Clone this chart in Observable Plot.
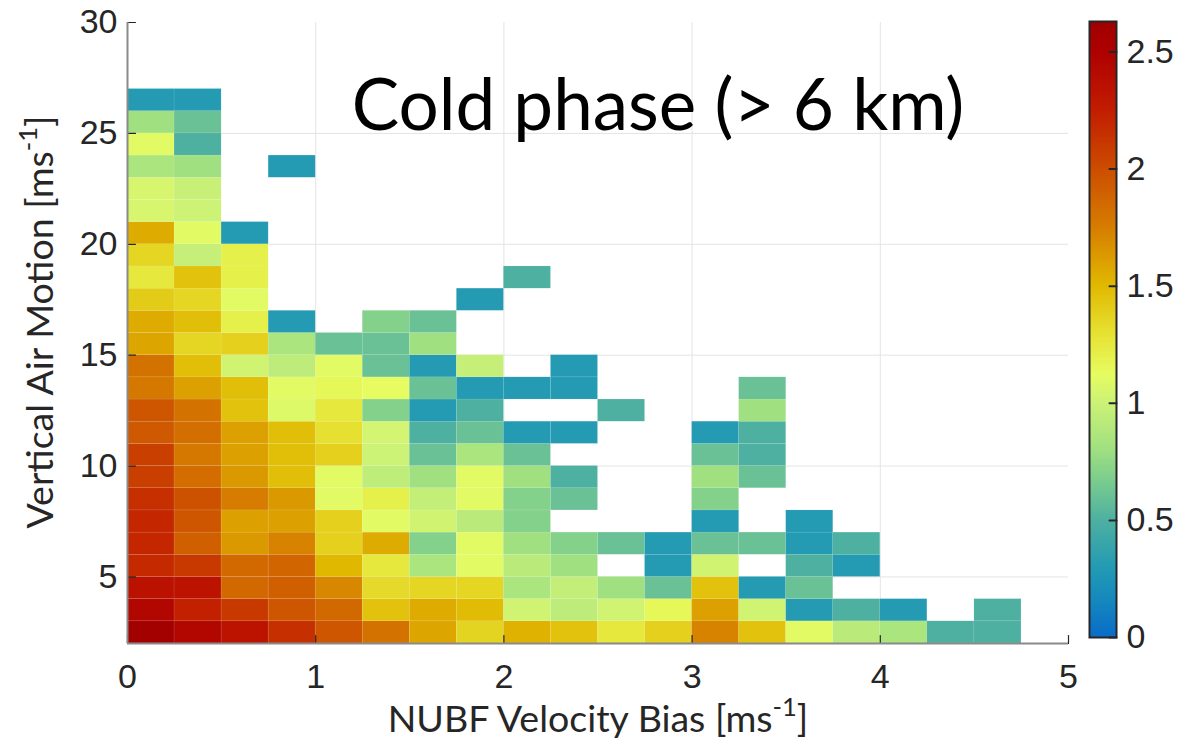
<!DOCTYPE html>
<html><head><meta charset="utf-8">
<script src="https://cdn.jsdelivr.net/npm/d3@7"></script>
<script src="https://cdn.jsdelivr.net/npm/@observablehq/plot@0.6"></script>
<style>
html,body{margin:0;padding:0;background:#fff;}
#wrap{position:relative;width:1199px;height:753px;overflow:hidden;background:#fff;}
#wrap svg{position:absolute;top:0;}
</style></head><body><div id="wrap"></div>
<script>
// ---- data ----
const xBins = [0,0.25,0.5,0.75,1,1.25,1.5,1.75,2,2.25,2.5,2.75,3,3.25,3.5,3.75,4,4.25,4.5,4.75];
const binWidth = 0.25;
const yBins = [2,3,4,5,6,7,8,9,10,11,12,13,14,15,16,17,18,19,20,21,22,23,24,25,26];
const binHeight = 1;
const N = null;
// one row per yBin (bottom to top), one value per xBin
const values = [
  [2.6,2.45,2.33,2.15,1.95,1.8,1.58,1.36,1.53,1.45,1.25,1.38,1.72,1.45,1.1,0.92,0.85,0.5,0.5,N],
  [2.45,2.23,2.1,1.95,1.85,1.45,1.55,1.48,1.02,0.93,1.02,1.15,1.6,1.02,0.3,0.5,0.3,N,0.5,N],
  [2.35,2.33,1.85,1.9,1.7,1.33,1.35,1.35,0.85,0.96,0.8,0.6,1.45,0.3,0.6,N,N,N,N,N],
  [2.18,2.1,1.85,1.87,1.5,1.25,0.85,1.1,0.92,0.8,N,0.3,1.02,N,0.5,0.3,N,N,N,N],
  [2.2,1.9,1.63,1.72,1.38,1.55,0.7,1.1,0.8,0.7,0.6,0.3,0.6,0.6,0.3,0.5,N,N,N,N],
  [2.2,1.95,1.6,1.6,1.38,1.1,1.02,0.92,0.7,N,N,N,0.3,N,0.3,N,N,N,N,N],
  [2.15,1.97,1.75,1.63,1.1,1.2,0.96,1.1,0.7,0.6,N,N,0.7,N,N,N,N,N,N,N],
  [2.07,1.83,1.63,1.47,1.1,0.94,0.8,1.1,0.8,0.5,N,N,0.8,0.6,N,N,N,N,N,N],
  [2.07,1.77,1.6,1.47,1.38,1.0,0.6,0.85,0.6,N,N,N,0.6,0.5,N,N,N,N,N,N],
  [1.93,1.82,1.6,1.47,1.3,1.03,0.5,0.6,0.3,0.3,N,N,0.3,0.5,N,N,N,N,N,N],
  [1.95,1.8,1.45,1.08,1.25,0.7,0.3,0.5,N,N,0.5,N,N,0.8,N,N,N,N,N,N],
  [1.77,1.6,1.47,1.1,1.15,1.12,0.6,0.3,0.3,0.3,N,N,N,0.6,N,N,N,N,N,N],
  [1.8,1.47,1.02,0.93,1.1,0.6,0.3,0.97,N,0.3,N,N,N,N,N,N,N,N,N,N],
  [1.58,1.35,1.38,0.85,0.6,0.6,0.8,N,N,N,N,N,N,N,N,N,N,N,N,N],
  [1.55,1.47,1.2,0.3,N,0.7,0.6,N,N,N,N,N,N,N,N,N,N,N,N,N],
  [1.4,1.35,1.1,N,N,N,N,0.3,N,N,N,N,N,N,N,N,N,N,N,N],
  [1.25,1.45,1.2,N,N,N,N,N,0.5,N,N,N,N,N,N,N,N,N,N,N],
  [1.35,0.97,1.2,N,N,N,N,N,N,N,N,N,N,N,N,N,N,N,N,N],
  [1.55,1.1,0.3,N,N,N,N,N,N,N,N,N,N,N,N,N,N,N,N,N],
  [1.05,1.0,N,N,N,N,N,N,N,N,N,N,N,N,N,N,N,N,N,N],
  [1.05,0.98,N,N,N,N,N,N,N,N,N,N,N,N,N,N,N,N,N,N],
  [0.85,0.8,N,0.3,N,N,N,N,N,N,N,N,N,N,N,N,N,N,N,N],
  [1.1,0.5,N,N,N,N,N,N,N,N,N,N,N,N,N,N,N,N,N,N],
  [0.8,0.6,N,N,N,N,N,N,N,N,N,N,N,N,N,N,N,N,N,N],
  [0.3,0.3,N,N,N,N,N,N,N,N,N,N,N,N,N,N,N,N,N,N]
];
const xTicks = [0,1,2,3,4,5];
const yTicks = [5,10,15,20,25,30];
const cbarTicks = [0,0.5,1,1.5,2,2.5];
const cbarMax = 2.63;
const colorDomain = [0,0.15,0.3,0.5,0.65,0.8,1.0,1.12,1.3,1.5,1.75,2.0,2.25,2.5,2.63];
const colorRange = ["#0a6cc8","#1487be","#249bb3","#4eb0a0","#76ca90","#a0e080","#ccf276","#e6fc60","#e6e030","#e0b800","#d67c00","#cc4c00","#c21c00","#ae0000","#a00000"];
const titleText = "Cold phase (> 6 km)";
const xLabel = ["NUBF Velocity Bias [ms", "-1", "]"];
const yLabel = ["Vertical Air Motion [ms", "-1", "]"];

// ---- build ----
const cells = [];
values.forEach((row, i) => row.forEach((v, j) => {
  if (v != null) cells.push({x1: xBins[j], x2: xBins[j] + binWidth, y1: yBins[i], y2: yBins[i] + binHeight, v});
}));

const tickShape = {draw(ctx, l) { ctx.moveTo(0, 0); ctx.lineTo(0, -l); }};
const colorScale = {type: "linear", domain: colorDomain, range: colorRange, interpolate: "rgb", clamp: true};
const axisFont = "Liberation Sans";
const ink = "#262626";
const fmt = d3.format("~g");

const main = Plot.plot({
  width: 1199, height: 753,
  marginLeft: 127, marginRight: 131, marginTop: 22, marginBottom: 110,
  style: {fontFamily: axisFont, fontSize: "34px", color: ink, background: "transparent"},
  x: {domain: [0, 5]},
  y: {domain: [2, 30]},
  color: colorScale,
  marks: [
    Plot.gridX([1,2,3,4], {stroke: "#e4e4e4", strokeOpacity: 1}),
    Plot.gridY([5,10,15,20,25], {stroke: "#e4e4e4", strokeOpacity: 1}),
    Plot.rect(cells, {x1: "x1", x2: "x2", y1: "y1", y2: "y2", fill: "v", stroke: "white", strokeOpacity: 0.12, strokeWidth: 0.6}),
    Plot.axisX(xTicks, {tickSize: 0, tickPadding: 20, label: null, fill: ink, tickFormat: fmt, fontFamily: axisFont, fontSize: 34}),
    Plot.axisY(yTicks, {tickSize: 0, tickPadding: 10, label: null, fill: ink, tickFormat: fmt, fontFamily: axisFont, fontSize: 34}),
    Plot.vector(xTicks, {x: d => d, frameAnchor: "bottom", length: 8, anchor: "start", shape: tickShape, stroke: ink, strokeWidth: 1.2}),
    Plot.vector(yTicks, {y: d => d, frameAnchor: "left", length: 8, rotate: 90, anchor: "start", shape: tickShape, stroke: ink, strokeWidth: 1.2}),
    Plot.ruleX([0], {stroke: "#8a8a8a", strokeWidth: 2}),
    Plot.ruleY([2], {stroke: "#8a8a8a", strokeWidth: 2})
  ]
});

const bands = d3.range(0, cbarMax, 0.005);
const cbar = Plot.plot({
  width: 114, height: 753,
  marginLeft: 4, marginRight: 83, marginTop: 21, marginBottom: 116,
  style: {fontFamily: axisFont, fontSize: "34px", color: ink, background: "transparent"},
  x: {domain: [0, 1], axis: null},
  y: {domain: [0, cbarMax]},
  color: colorScale,
  marks: [
    Plot.rect(bands, {x1: 0, x2: 1, y1: d => d, y2: d => Math.min(cbarMax, d + 0.008), fill: d => d, shapeRendering: "crispEdges"}),
    Plot.frame({stroke: ink, strokeWidth: 2}),
    Plot.axisY(cbarTicks, {anchor: "right", tickSize: 0, tickPadding: 10, label: null, fill: ink, tickFormat: fmt, fontFamily: axisFont, fontSize: 34}),
    Plot.vector(cbarTicks, {y: d => d, frameAnchor: "right", length: 7, rotate: -90, anchor: "start", shape: tickShape, stroke: ink, strokeWidth: 2})
  ]
});

const wrap = document.getElementById("wrap");
wrap.appendChild(main);
cbar.style.left = "1085px";
wrap.appendChild(cbar);

const svg = d3.select(main);
function addLabel(parts, attrs, size) {
  const t = svg.append("text").attr("font-family", "Lato, 'Noto Sans', sans-serif").attr("font-size", size).attr("fill", ink).attr("text-anchor", "middle");
  Object.entries(attrs).forEach(([k, v]) => t.attr(k, v));
  t.append("tspan").text(parts[0]);
  t.append("tspan").attr("dy", -size * 0.42).attr("font-size", size * 0.68).text(parts[1]);
  t.append("tspan").attr("dy", size * 0.42).text(parts[2]);
}
addLabel(xLabel, {x: 598, y: 732}, 37.5);
addLabel(yLabel, {transform: "translate(53,322) rotate(-90)"}, 37.5);
svg.append("text").attr("x", 658).attr("y", 130).attr("text-anchor", "middle")
  .attr("font-family", "Lato, 'Noto Sans', sans-serif").attr("font-size", 71).attr("fill", "#000").text(titleText);
</script></body></html>
